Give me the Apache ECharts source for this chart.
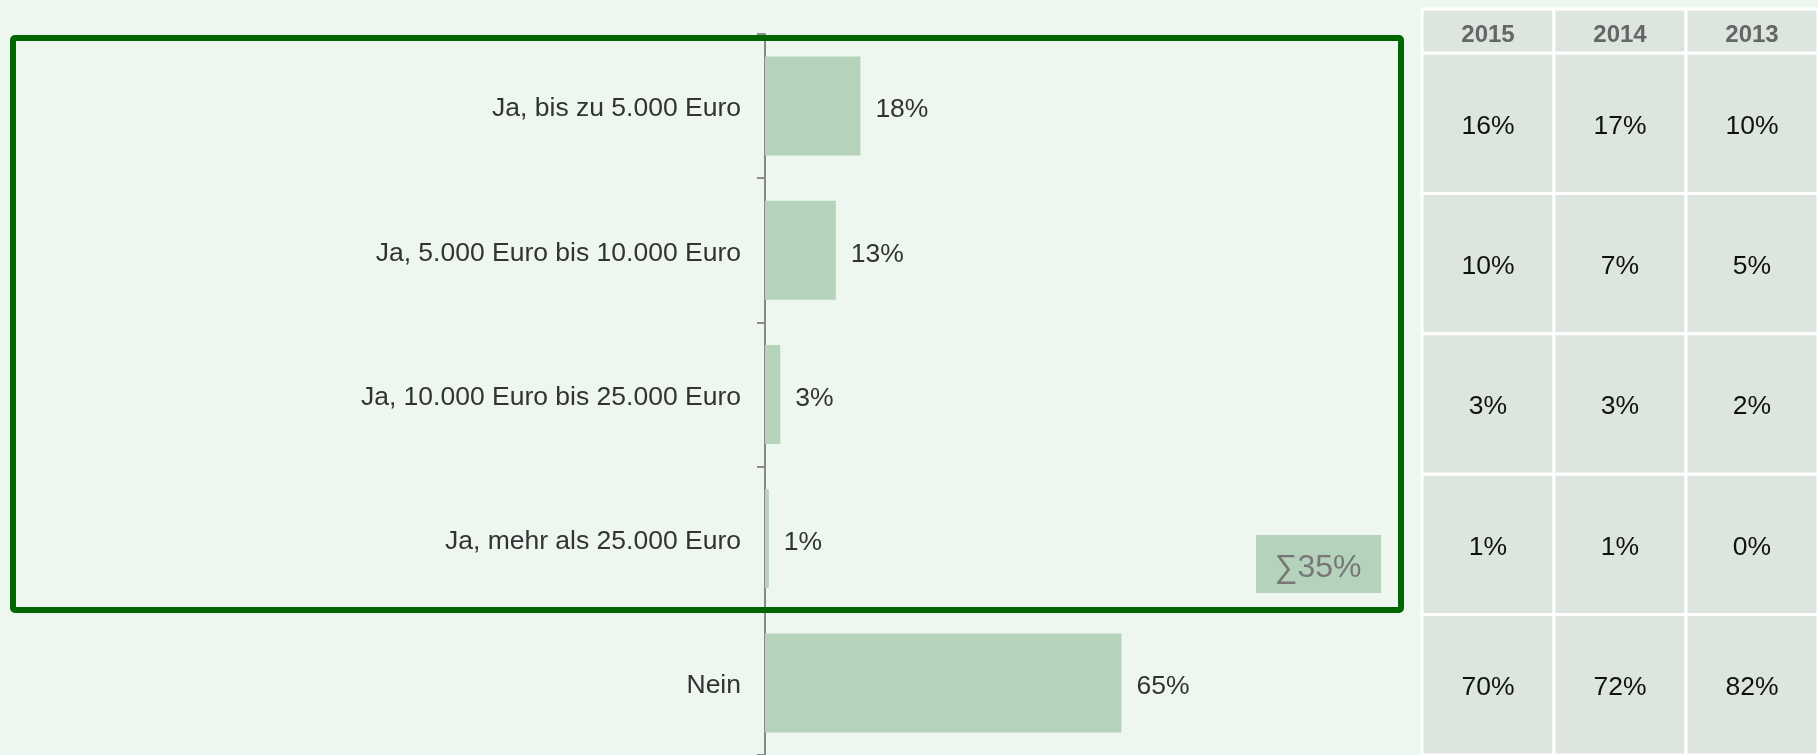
<!DOCTYPE html>
<html>
<head>
<meta charset="utf-8">
<script src="https://cdn.jsdelivr.net/npm/echarts@6/dist/echarts.min.js"></script>
<style>
    html, body { margin: 0; padding: 0; background: #edf7f0; }
    #chart { width: 1818px; height: 755px; }
</style>
</head>
<body>
<div id="chart"></div>
<script>
// Kategorien (von oben nach unten)
const categories = [
    'Ja, bis zu 5.000 Euro',
    'Ja, 5.000 Euro bis 10.000 Euro',
    'Ja, 10.000 Euro bis 25.000 Euro',
    'Ja, mehr als 25.000 Euro',
    'Nein'
]
// aktuelle Anteile in % (Balken)
const shares = [17.5, 13.0, 2.8, 0.7, 65.4]
// Vorjahre (Tabelle rechts)
const years = ['2015', '2014', '2013']
const share2015 = [16, 10, 3, 1, 70]
const share2014 = [17, 7, 3, 1, 72]
const share2013 = [10, 5, 2, 0, 82]
// welche Kategorien gehören zur Summe (Ja-Antworten)
const sumRows = [0, 1, 2, 3]

const font = 'Liberation Sans, Arial, Helvetica, sans-serif'
const myChart = echarts.init(document.getElementById('chart'))

// Tabellendaten [spalte, zeile, wert]
const tableData = []
;[share2015, share2014, share2013].forEach(function (col, ci) {
    col.forEach(function (v, ri) {
        tableData.push([ci, ri, v])
    })
})
const headerData = years.map(function (y, i) { return [i, 0, y] })

// Summe der gerundeten Ja-Anteile
const jaSum = sumRows.reduce(function (s, i) { return s + Math.round(shares[i]) }, 0)

function cellRenderer(textStyle) {
    return function (params, api) {
        const c = api.coord([api.value(0), api.value(1)])
        const s = api.size([1, 1])
        return {
            type: 'group',
            children: [
                {
                    type: 'rect',
                    shape: { x: c[0] - s[0] / 2, y: c[1] - s[1] / 2, width: s[0], height: s[1] },
                    style: { fill: '#dce6df', stroke: '#ffffff', lineWidth: 3 }
                },
                {
                    type: 'text',
                    style: Object.assign({
                        text: textStyle.fmt(api.value(2)),
                        x: c[0],
                        y: c[1] + textStyle.dy,
                        align: 'center',
                        verticalAlign: 'middle'
                    }, textStyle.style)
                }
            ]
        }
    }
}

const option = {
    backgroundColor: '#edf7f0',
    animation: false,
    grid: [
        // Balken
        { left: 765, top: 34, width: 545, height: 722 },
        // Tabelle
        { left: 1422, top: 53, width: 406, height: 710 },
        // Tabellenkopf
        { left: 1422, top: 9, width: 406, height: 44 }
    ],
    xAxis: [
        { gridIndex: 0, type: 'value', min: 0, max: 100, show: false },
        { gridIndex: 1, type: 'category', data: years, show: false },
        { gridIndex: 2, type: 'category', data: years, show: false }
    ],
    yAxis: [
        {
            gridIndex: 0,
            type: 'category',
            inverse: true,
            data: categories,
            axisLine: { lineStyle: { color: '#888888', width: 2 } },
            axisTick: { show: true, length: 8, lineStyle: { color: '#8c8c8c', width: 2 } },
            axisLabel: {
                margin: 24,
                fontSize: 26.5,
                fontFamily: font,
                color: '#333333',
                // Text etwas tiefer setzen
                verticalAlign: 'top',
                lineHeight: 6
            }
        },
        { gridIndex: 1, type: 'category', inverse: true, data: categories, show: false },
        { gridIndex: 2, type: 'category', data: ['Jahr'], show: false }
    ],
    series: [
        {
            type: 'bar',
            xAxisIndex: 0,
            yAxisIndex: 0,
            data: shares,
            barWidth: 99,
            itemStyle: { color: '#b5d2ba' },
            label: {
                show: true,
                position: 'right',
                distance: 15,
                offset: [0, 4],
                fontSize: 26.5,
                fontFamily: font,
                color: '#333333',
                formatter: function (p) { return Math.round(p.value) + '%' }
            }
        },
        {
            type: 'custom',
            xAxisIndex: 1,
            yAxisIndex: 1,
            data: tableData,
            renderItem: cellRenderer({
                fmt: function (v) { return v + '%' },
                dy: 3,
                style: { font: '26.5px ' + font, fill: '#111111' }
            })
        },
        {
            type: 'custom',
            xAxisIndex: 2,
            yAxisIndex: 2,
            data: headerData,
            dimensions: ['x', 'y', { name: 'year', type: 'ordinal' }],
            renderItem: cellRenderer({
                fmt: function (v) { return v },
                dy: 4,
                style: { font: 'bold 24px ' + font, fill: '#666666' }
            })
        }
    ],
    graphic: [
        // Rahmen um die Ja-Antworten
        {
            type: 'rect',
            shape: { x: 13, y: 38, width: 1388, height: 572, r: 2 },
            style: { fill: null, stroke: '#006600', lineWidth: 6 },
            z: 100
        },
        // Summenbox
        {
            type: 'group',
            left: 1256,
            top: 535,
            z: 100,
            children: [
                {
                    type: 'rect',
                    shape: { x: 0, y: 0, width: 125, height: 58 },
                    style: { fill: '#b5d2ba' }
                },
                {
                    type: 'text',
                    x: 62,
                    y: 33,
                    style: {
                        text: '\u2211' + jaSum + '%',
                        font: '32px ' + font,
                        fill: '#777777',
                        align: 'center',
                        verticalAlign: 'middle'
                    }
                }
            ]
        }
    ]
}
myChart.setOption(option)
</script>
</body>
</html>
